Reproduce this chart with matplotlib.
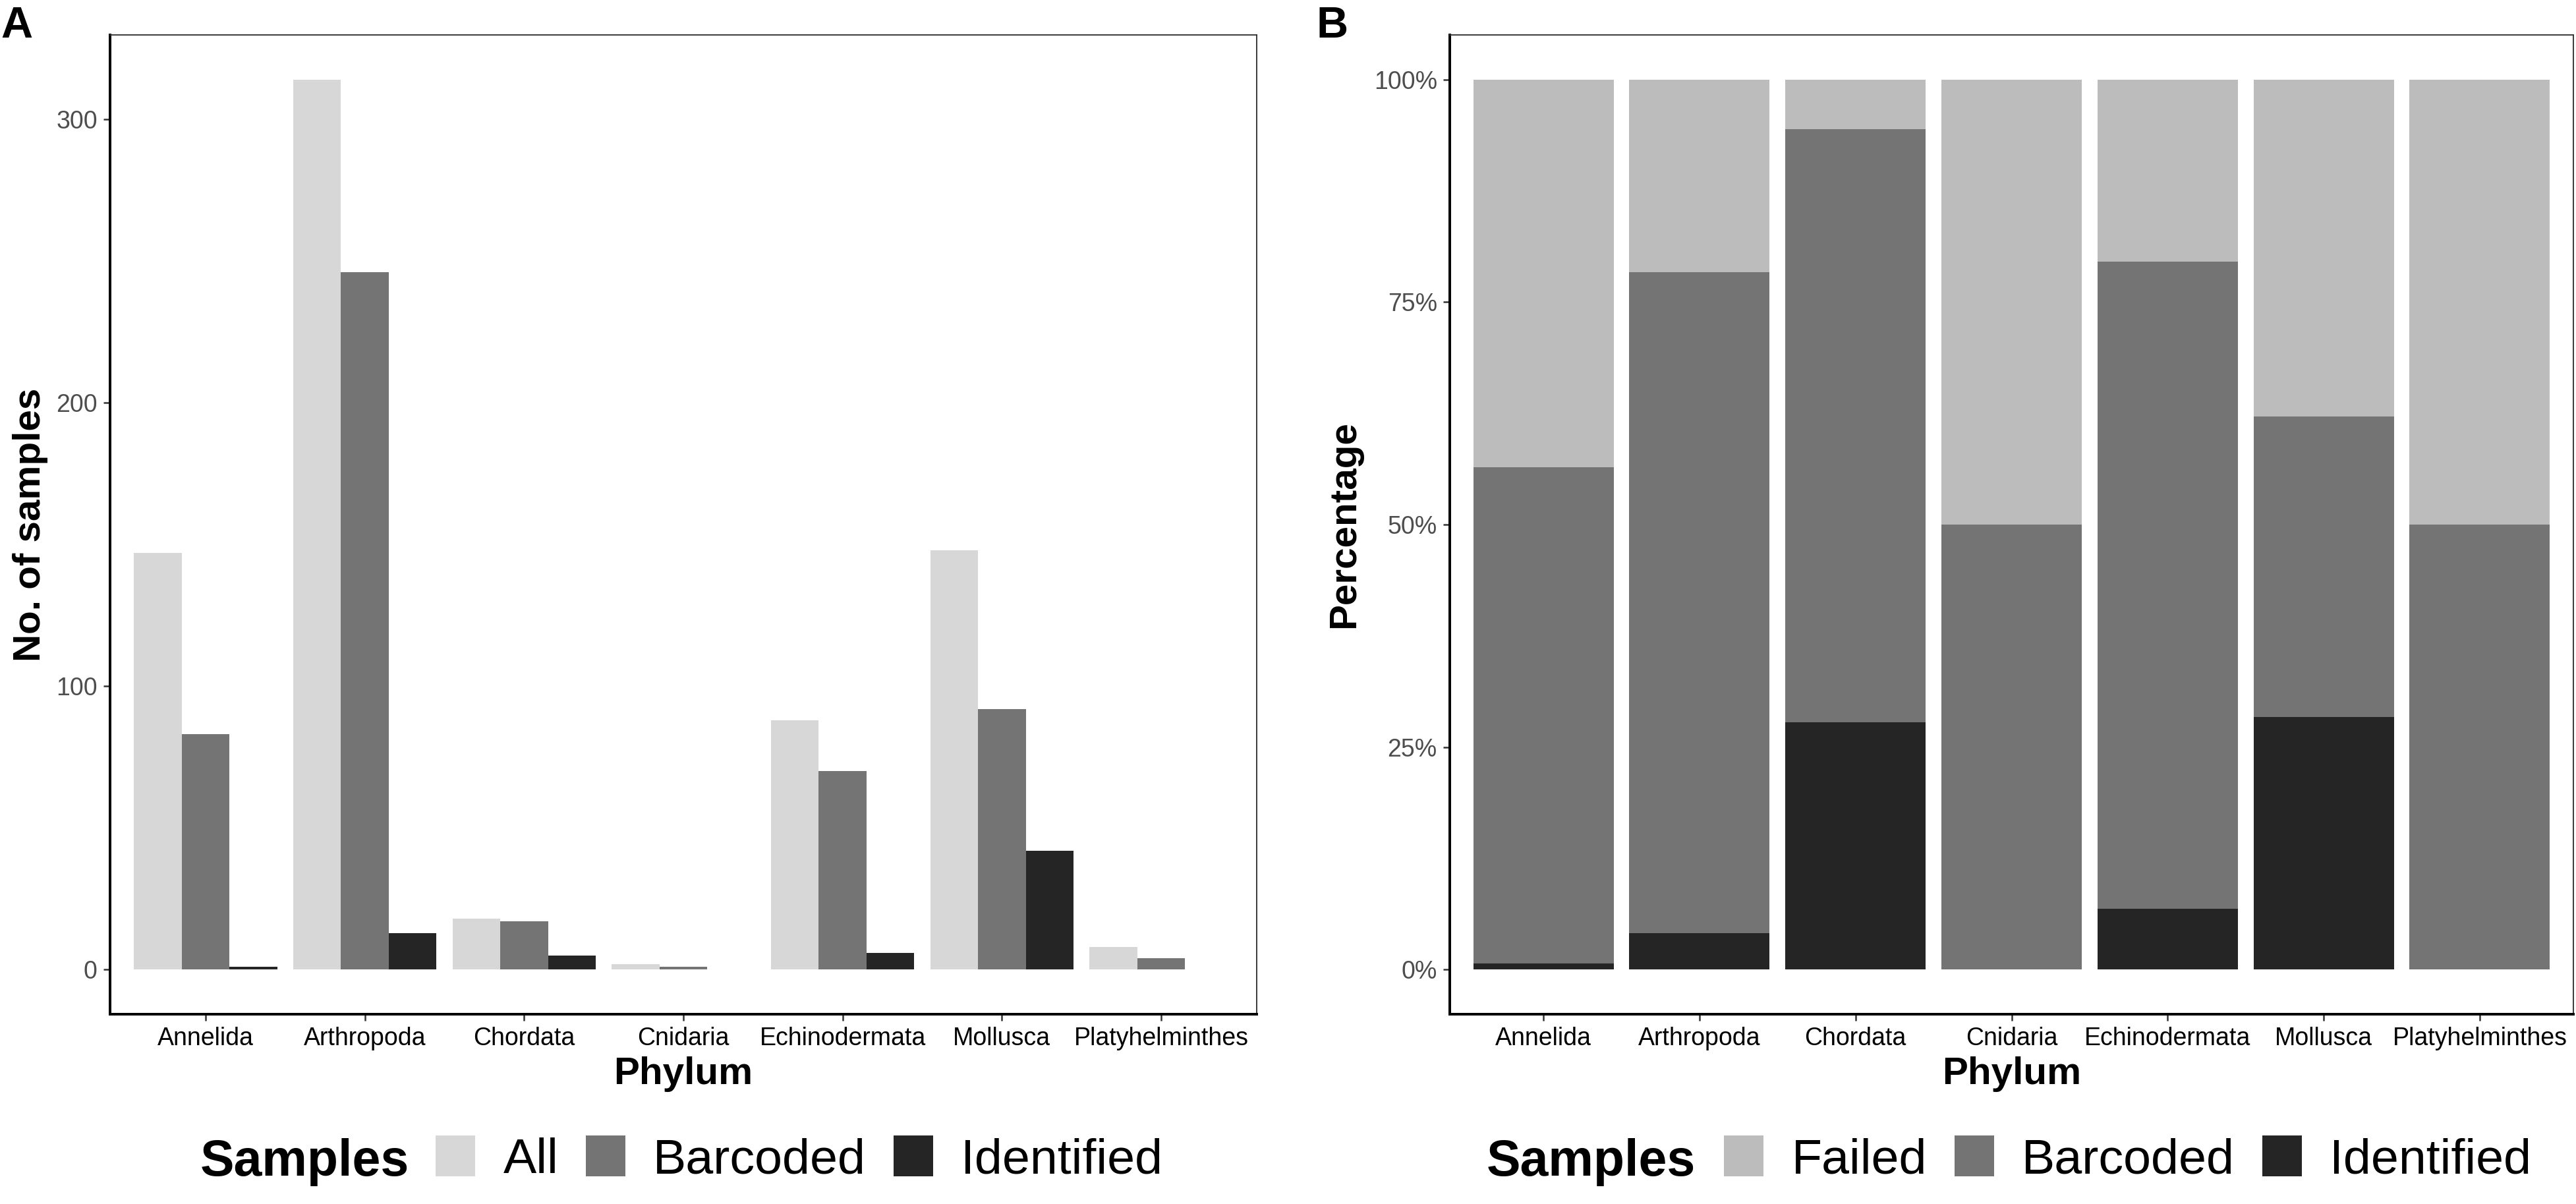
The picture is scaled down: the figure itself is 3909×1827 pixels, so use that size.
import numpy as np
import matplotlib
matplotlib.use("Agg")
import matplotlib.pyplot as plt
from matplotlib.patches import Patch
from matplotlib.ticker import FuncFormatter

plt.rcParams['font.family'] = ['Liberation Sans', 'DejaVu Sans']

# data
phyla = ['Annelida', 'Arthropoda', 'Chordata', 'Cnidaria',
         'Echinodermata', 'Mollusca', 'Platyhelminthes']
n_all = np.array([147, 314, 18, 2, 88, 148, 8])
n_barcoded = np.array([83, 246, 17, 1, 70, 92, 4])
n_identified = np.array([1, 13, 5, 0, 6, 42, 0])

col_all = '#D7D7D7'
col_failed = '#BCBCBC'
col_barcoded = '#747474'
col_identified = '#252525'

W, H = 3909, 1827
DPI = 300
fig = plt.figure(figsize=(W / DPI, H / DPI), dpi=DPI)


def px_axes(left, top, right, bottom):
    return fig.add_axes([left / W, 1 - bottom / H, (right - left) / W, (bottom - top) / H])


def style_axes(ax):
    for side in ['left', 'bottom']:
        ax.spines[side].set_linewidth(0.95)
        ax.spines[side].set_color('black')
    for side in ['top', 'right']:
        ax.spines[side].set_linewidth(0.45)
        ax.spines[side].set_color('#333333')
    ax.tick_params(axis='both', length=2.4, width=0.6, color='#333333', pad=2.2,
                   labelsize=9)
    ax.tick_params(axis='y', labelcolor='#4D4D4D')
    ax.tick_params(axis='x', labelcolor='black')
    ax.set_xticks(np.arange(len(phyla)))
    ax.set_xticklabels(phyla)
    ax.set_xlim(-0.6, len(phyla) - 0.4)
    ax.set_xlabel('Phylum', fontsize=14, fontweight='bold', va='baseline')
    ax.xaxis.set_label_coords(0.5, (1539 - 1645) / 1486)


x = np.arange(len(phyla))

# Panel A: counts, dodged
axA = px_axes(167, 53, 1907, 1539)
w = 0.3
axA.bar(x - w, n_all, w, color=col_all, linewidth=0)
axA.bar(x, n_barcoded, w, color=col_barcoded, linewidth=0)
axA.bar(x + w, n_identified, w, color=col_identified, linewidth=0)
top = n_all.max()
axA.set_ylim(-0.05 * top, 1.05 * top)
axA.set_yticks([0, 100, 200, 300])
style_axes(axA)
axA.set_ylabel('No. of samples', fontsize=14, fontweight='bold', va='baseline')
axA.yaxis.set_label_coords((61 - 167) / 1740, 0.5)

# Panel B: proportions, stacked
axB = px_axes(2200, 53, 3905, 1539)
p_ident = n_identified / n_all
p_barc = (n_barcoded - n_identified) / n_all
p_fail = (n_all - n_barcoded) / n_all
axB.bar(x, p_ident, 0.9, color=col_identified, linewidth=0)
axB.bar(x, p_barc, 0.9, bottom=p_ident, color=col_barcoded, linewidth=0)
axB.bar(x, p_fail, 0.9, bottom=p_ident + p_barc, color=col_failed, linewidth=0)
axB.set_ylim(-0.05, 1.05)
axB.set_yticks([0, 0.25, 0.5, 0.75, 1.0])
axB.yaxis.set_major_formatter(FuncFormatter(lambda v, _: f'{v * 100:.0f}%'))
style_axes(axB)
axB.set_ylabel('Percentage', fontsize=14, fontweight='bold', va='baseline')
axB.yaxis.set_label_coords((2055 - 2200) / 1705, 0.5)

# panel tags
fig.text(1 / W, 1 - 57 / H, 'A', fontsize=16, fontweight='bold', va='baseline', ha='left')
fig.text(1997 / W, 1 - 57 / H, 'B', fontsize=16, fontweight='bold', va='baseline', ha='left')

# legends
leg_kw = dict(loc='center left', ncol=3, frameon=False, fontsize=18.1,
              handlelength=0.8, handleheight=0.9, handletextpad=0.56,
              columnspacing=0.55, borderpad=0, borderaxespad=0)

handlesA = [Patch(facecolor=col_all, linewidth=0),
            Patch(facecolor=col_barcoded, linewidth=0),
            Patch(facecolor=col_identified, linewidth=0)]
fig.legend(handlesA, ['All', 'Barcoded', 'Identified'],
           bbox_to_anchor=(661 / W, 1 - 1759 / H), **leg_kw)
fig.text(621 / W, 1 - 1784 / H, 'Samples', fontsize=18.5, fontweight='bold',
         ha='right', va='baseline')

handlesB = [Patch(facecolor=col_failed, linewidth=0),
            Patch(facecolor=col_barcoded, linewidth=0),
            Patch(facecolor=col_identified, linewidth=0)]
fig.legend(handlesB, ['Failed', 'Barcoded', 'Identified'],
           bbox_to_anchor=(2616 / W, 1 - 1759 / H), **leg_kw)
fig.text(2573 / W, 1 - 1784 / H, 'Samples', fontsize=18.5, fontweight='bold',
         ha='right', va='baseline')

fig.savefig('out.png', dpi=DPI)
